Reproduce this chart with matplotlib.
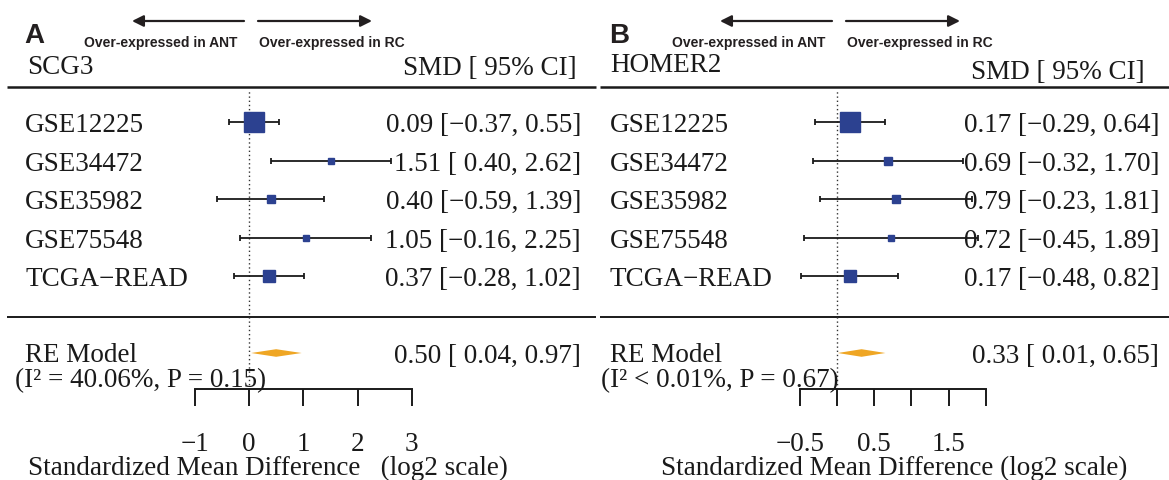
import matplotlib
matplotlib.use("Agg")
import matplotlib.pyplot as plt
from matplotlib.transforms import offset_copy

plt.rcParams['font.family'] = ['Liberation Serif', 'DejaVu Serif']

# ---------------------------------------------------------------- data
studies = ["GSE12225", "GSE34472", "GSE35982", "GSE75548", "TCGA\u2212READ"]

scg3_smd = [0.09, 1.51, 0.40, 1.05, 0.37]
scg3_lo = [-0.37, 0.40, -0.59, -0.16, -0.28]
scg3_hi = [0.55, 2.62, 1.39, 2.25, 1.02]
scg3_re = [0.50, 0.04, 0.97]
scg3_het = "(I\u00b2 = 40.06%, P = 0.15)"
scg3_ticks = [-1, 0, 1, 2, 3]
scg3_ticklabels = ["\u22121", "0", "1", "2", "3"]

homer2_smd = [0.17, 0.69, 0.79, 0.72, 0.17]
homer2_lo = [-0.29, -0.32, -0.23, -0.45, -0.48]
homer2_hi = [0.64, 1.70, 1.81, 1.89, 0.82]
homer2_re = [0.33, 0.01, 0.65]
homer2_het = "(I\u00b2 < 0.01%, P = 0.67)"
homer2_ticks = [-0.5, 0, 0.5, 1, 1.5, 2]
homer2_ticklabels = ["\u22120.5", "", "0.5", "", "1.5", ""]

# ---------------------------------------------------------------- layout
W, H = 1169, 481
ROW1_PX = 277      # pixel centre of row 1 (last study)
ROW_STEP = 38.5    # pixels per row
FS = 19.5
BOX = '#2C4190'
DIAM = '#EFA624'
INK = '#1a1a1a'


def yr(px):
    # pixel row -> forest row units
    return 1 + (ROW1_PX - px) / ROW_STEP


def fmt(est, lo, hi):
    s = f"{est:.2f} [{lo:5.2f}, {hi:.2f}]"
    return s.replace('-', '\u2212')


def draw_panel(fig, cfg, gene, smd, lo, hi, re, het, ticks, ticklabels):
    zero, unit = cfg['zero'], cfg['unit']
    left, right = cfg['left'], cfg['right']

    def xp(px):
        return (px - zero) / unit

    ax = fig.add_axes([left / W, 0, (right - left) / W, 1])
    ax.set_xlim(xp(left), xp(right))
    ax.set_ylim(yr(H), yr(0))
    ax.patch.set_visible(False)
    for s in ['top', 'left', 'right']:
        ax.spines[s].set_visible(False)
    ax.spines['bottom'].set_position(('data', yr(390)))
    ax.spines['bottom'].set_bounds(ticks[0], ticks[-1])
    ax.spines['bottom'].set_linewidth(1.4)
    ax.spines['bottom'].set_color(INK)
    ax.set_xticks(ticks, ticklabels)
    ax.tick_params(axis='x', direction='out', length=12, width=1.4,
                   labelsize=FS, pad=18, colors=INK)
    ax.set_yticks([])

    # header / separator lines and reference line
    ax.hlines(yr(88), xp(left + cfg['line_l']), xp(right - cfg['line_r']), color=INK, lw=1.8)
    ax.hlines(yr(318), xp(left + cfg['line_l']), xp(right - cfg['line_r']), color=INK, lw=1.4)
    ax.vlines(0, yr(390), yr(90), color='#333333', lw=1.0, linestyles=(0, (1, 2)))

    # box sizes from inverse variance (metafor psize)
    k = len(smd)
    rows = list(range(k, 0, -1))
    wi = [1 / ((h - l) ** 2) for l, h in zip(lo, hi)]
    psize = [(w - min(wi)) / (max(wi) - min(wi)) + 0.5 for w in wi]

    base = 9 / ROW_STEP
    ax.hlines(rows, lo, hi, color=INK, lw=1.3)
    ax.plot(lo + hi, rows + rows, ls='none', marker='|', ms=5, mew=1.3, color=INK)
    for r, est, ps in zip(rows, smd, psize):
        ax.plot(est, r, marker='s', ms=ps * 12.7 * 0.72, color=BOX, mec=BOX, ls='none')

    for r, name, est, l, h in zip(rows, studies, smd, lo, hi):
        ax.text(xp(cfg['lab']), r - base, name, ha='left', va='baseline', fontsize=FS, color=INK)
        ax.text(xp(cfg['num']), r - base, fmt(est, l, h), ha='right', va='baseline',
                fontsize=FS, color=INK)

    # summary
    est, l, h = re
    rr = -1
    dh = 3.8 / ROW_STEP
    ax.fill([l, est, h, est], [rr, rr + dh, rr, rr - dh], color=DIAM, lw=0)
    ax.text(xp(cfg['lab']), yr(362), "RE Model", ha='left', va='baseline', fontsize=FS, color=INK)
    ax.text(xp(cfg['het']), yr(387), het, ha='left', va='baseline', fontsize=FS, color=INK)
    ax.text(xp(cfg['num']), rr - base, fmt(est, l, h), ha='right', va='baseline',
            fontsize=FS, color=INK)

    # column headers
    ax.text(xp(cfg['gene_x']), yr(cfg['gene_y']), gene, ha='left', va='baseline', fontsize=FS, color=INK)
    ax.text(xp(cfg['smd_x']), yr(cfg['smd_y']), "SMD [ 95% CI]", ha='right', va='baseline',
            fontsize=FS, color=INK)

    # x label
    ax.text(xp(cfg['xlab_x']), yr(475), cfg['xlab'], ha='center', va='baseline', fontsize=FS, color=INK)

    # direction arrows
    ya = yr(22)
    arrow = dict(arrowstyle='-|>', color='#231f20', lw=1.6, mutation_scale=17,
                 shrinkA=0, shrinkB=0)
    ax.annotate('', xy=(0, ya), xycoords=offset_copy(ax.transData, fig=fig, x=-117, units='dots'),
                xytext=(0, ya), textcoords=offset_copy(ax.transData, fig=fig, x=-5, units='dots'),
                arrowprops=arrow)
    ax.annotate('', xy=(0, ya), xycoords=offset_copy(ax.transData, fig=fig, x=123, units='dots'),
                xytext=(0, ya), textcoords=offset_copy(ax.transData, fig=fig, x=9, units='dots'),
                arrowprops=arrow)
    ax.text(0, yr(47), "Over-expressed in ANT", ha='right', va='baseline',
            transform=offset_copy(ax.transData, fig=fig, x=-12, units='dots'),
            fontsize=10, fontweight='bold', family='Liberation Sans', color='#231f20')
    ax.text(0, yr(47), "Over-expressed in RC", ha='left', va='baseline',
            transform=offset_copy(ax.transData, fig=fig, x=10, units='dots'),
            fontsize=10, fontweight='bold', family='Liberation Sans', color='#231f20')

    fig.text(cfg['letter_x'] / W, 1 - 43 / H, cfg['letter'], ha='left', va='baseline',
             fontsize=20, fontweight='bold', family='Liberation Sans', color='#231f20')
    return ax


fig = plt.figure(figsize=(W / 100, H / 100), dpi=100)

panel_a = dict(left=0, right=598, zero=249, unit=54.25, line_l=7, line_r=2,
               lab=25, het=15, num=581, gene_x=27, gene_y=74, smd_x=577, smd_y=75,
               xlab="Standardized Mean Difference   (log2 scale)", xlab_x=268,
               letter='A', letter_x=24)
panel_b = dict(left=598, right=1169, zero=837, unit=74.4, line_l=2, line_r=0,
               lab=610, het=601, num=1159, gene_x=610, gene_y=72, smd_x=1145, smd_y=79,
               xlab="Standardized Mean Difference (log2 scale)", xlab_x=894,
               letter='B', letter_x=609)

draw_panel(fig, panel_a, "SCG3", scg3_smd, scg3_lo, scg3_hi, scg3_re, scg3_het,
           scg3_ticks, scg3_ticklabels)
draw_panel(fig, panel_b, "HOMER2", homer2_smd, homer2_lo, homer2_hi, homer2_re, homer2_het,
           homer2_ticks, homer2_ticklabels)

fig.savefig("out.png", dpi=100)
